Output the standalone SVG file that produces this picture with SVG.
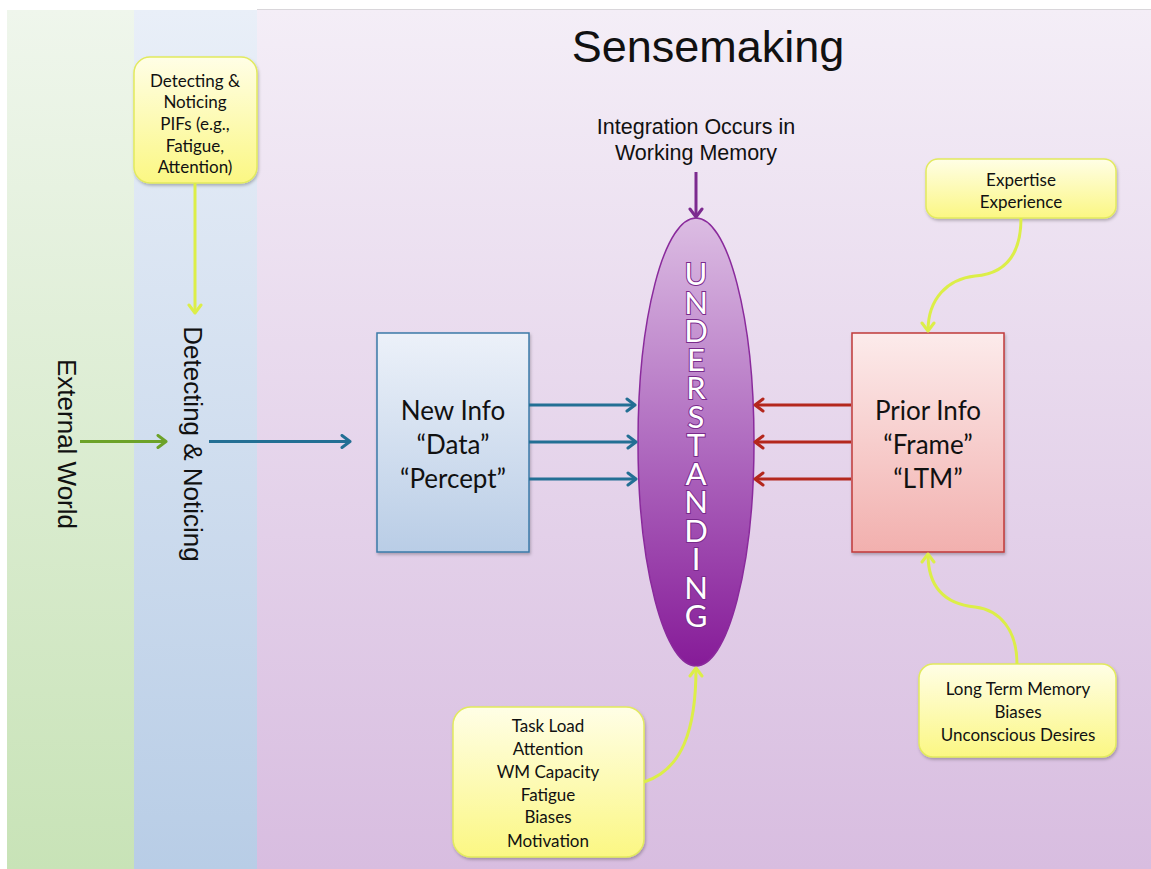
<svg xmlns="http://www.w3.org/2000/svg" width="1151" height="869" viewBox="0 0 1151 869">
  <defs>
    <linearGradient id="gGreen" x1="0" y1="0" x2="0" y2="1">
      <stop offset="0" stop-color="#eff6ec"/>
      <stop offset="1" stop-color="#c8e3b7"/>
    </linearGradient>
    <linearGradient id="gBlue" x1="0" y1="0" x2="0" y2="1">
      <stop offset="0" stop-color="#e9eff8"/>
      <stop offset="1" stop-color="#b8cde6"/>
    </linearGradient>
    <linearGradient id="gPurple" x1="0" y1="0" x2="0" y2="1">
      <stop offset="0" stop-color="#f4eef7"/>
      <stop offset="1" stop-color="#d8bde0"/>
    </linearGradient>
    <linearGradient id="gEllipse" x1="0" y1="0" x2="0" y2="1">
      <stop offset="0" stop-color="#dcbde3"/>
      <stop offset="0.5" stop-color="#b06cc0"/>
      <stop offset="1" stop-color="#861b98"/>
    </linearGradient>
    <linearGradient id="gNew" x1="0" y1="0" x2="0" y2="1">
      <stop offset="0" stop-color="#ecf1f9"/>
      <stop offset="1" stop-color="#b9cde6"/>
    </linearGradient>
    <linearGradient id="gPrior" x1="0" y1="0" x2="0" y2="1">
      <stop offset="0" stop-color="#fcebeb"/>
      <stop offset="1" stop-color="#f2b0ae"/>
    </linearGradient>
    <linearGradient id="gNote" x1="0" y1="0" x2="0" y2="1">
      <stop offset="0" stop-color="#fffee6"/>
      <stop offset="1" stop-color="#fbf783"/>
    </linearGradient>
    <filter id="shadow" x="-10%" y="-10%" width="130%" height="130%">
      <feDropShadow dx="1" dy="2" stdDeviation="1.5" flood-color="#000" flood-opacity="0.25"/>
    </filter>
    <marker id="mYellow" markerUnits="userSpaceOnUse" markerWidth="16" markerHeight="16" viewBox="0 0 16 16" refX="13" refY="8" orient="auto">
      <path d="M5,2 L13,8 L5,14" fill="none" stroke="#dcee48" stroke-width="3" stroke-linecap="round" stroke-linejoin="round"/>
    </marker>
    <marker id="mGreen" markerUnits="userSpaceOnUse" markerWidth="16" markerHeight="16" viewBox="0 0 16 16" refX="13" refY="8" orient="auto">
      <path d="M5,2 L13,8 L5,14" fill="none" stroke="#6ca228" stroke-width="3" stroke-linecap="round" stroke-linejoin="round"/>
    </marker>
    <marker id="mTeal" markerUnits="userSpaceOnUse" markerWidth="16" markerHeight="16" viewBox="0 0 16 16" refX="13" refY="8" orient="auto">
      <path d="M5,2 L13,8 L5,14" fill="none" stroke="#236f94" stroke-width="3" stroke-linecap="round" stroke-linejoin="round"/>
    </marker>
    <marker id="mRed" markerUnits="userSpaceOnUse" markerWidth="16" markerHeight="16" viewBox="0 0 16 16" refX="13" refY="8" orient="auto">
      <path d="M5,2 L13,8 L5,14" fill="none" stroke="#b4271d" stroke-width="3" stroke-linecap="round" stroke-linejoin="round"/>
    </marker>
    <marker id="mPurple" markerUnits="userSpaceOnUse" markerWidth="16" markerHeight="16" viewBox="0 0 16 16" refX="13" refY="8" orient="auto">
      <path d="M5,2 L13,8 L5,14" fill="none" stroke="#7c2a8f" stroke-width="3" stroke-linecap="round" stroke-linejoin="round"/>
    </marker>
  </defs>
  <style>
    .sans { font-family: "Liberation Sans", Arial, sans-serif; fill: #111; }
    .note { fill: url(#gNote); stroke: #e2ea5e; stroke-width: 1.5; filter: url(#shadow); }
    .noteText { font-family: Lato, "Open Sans", sans-serif; font-size: 17px; fill: #111; text-anchor: middle; }
    .boxText { font-family: Lato, "Open Sans", sans-serif; font-size: 26px; fill: #111; text-anchor: middle; }
    .yl { fill: none; stroke: #dcee48; stroke-width: 3; marker-end: url(#mYellow); }
    .letters { font-family: Lato, "Open Sans", sans-serif; font-size: 31px; fill: #fff; stroke: #7a2a8c; stroke-width: 2; paint-order: stroke; writing-mode: vertical-rl; text-orientation: upright; letter-spacing: -9.5px; }
  </style>

  <!-- background bands -->
  <g id="bands">
    <rect x="257" y="9" width="894" height="860" fill="url(#gPurple)"/>
    <line x1="257" y1="9.5" x2="1151" y2="9.5" stroke="#d9d6da" stroke-width="1"/>
    <rect x="7" y="10" width="127" height="859" fill="url(#gGreen)"/>
    <rect x="134" y="10" width="123" height="859" fill="url(#gBlue)"/>
  </g>

  <text class="sans" x="708" y="62" font-size="45" text-anchor="middle">Sensemaking</text>

  <g id="external-world">
    <text class="sans" font-size="26" text-anchor="middle" transform="translate(58,444) rotate(90)">External World</text>
  </g>

  <g id="detecting-noticing">
    <text class="sans" font-size="26" text-anchor="middle" transform="translate(184,444) rotate(90)">Detecting &amp; Noticing</text>
  </g>

  <g id="note-pifs">
    <rect class="note" x="134" y="57" width="123" height="126" rx="16"/>
    <text class="noteText" x="195" y="87">Detecting &amp;</text>
    <text class="noteText" x="195" y="108">Noticing</text>
    <text class="noteText" x="195" y="130">PIFs (e.g.,</text>
    <text class="noteText" x="195" y="152">Fatigue,</text>
    <text class="noteText" x="195" y="173">Attention)</text>
  </g>

  <g id="integration-label">
    <text class="sans" x="696" y="134" font-size="21.5" text-anchor="middle">Integration Occurs in</text>
    <text class="sans" x="696" y="160" font-size="21.5" text-anchor="middle">Working Memory</text>
  </g>

  <g id="new-info">
    <rect x="377" y="333" width="152" height="219" fill="url(#gNew)" stroke="#3b7aa8" stroke-width="1.5" filter="url(#shadow)"/>
    <text class="boxText" x="453" y="420">New Info</text>
    <text class="boxText" x="453" y="454">“Data”</text>
    <text class="boxText" x="453" y="488">“Percept”</text>
  </g>

  <g id="prior-info">
    <rect x="852" y="333" width="152" height="219" fill="url(#gPrior)" stroke="#c03a3a" stroke-width="1.5" filter="url(#shadow)"/>
    <text class="boxText" x="928" y="420">Prior Info</text>
    <text class="boxText" x="928" y="454">“Frame”</text>
    <text class="boxText" x="928" y="488">“LTM”</text>
  </g>

  <g id="understanding">
    <ellipse cx="696" cy="442" rx="58" ry="224" fill="url(#gEllipse)" stroke="#8a2a9c" stroke-width="1.5"/>
    <!-- word set in upright vertical writing -->
    <text class="letters" x="696" y="254">UNDERSTANDING</text>
  </g>

  <g id="note-expertise">
    <rect class="note" x="926" y="159" width="190" height="59" rx="12"/>
    <text class="noteText" x="1021" y="186">Expertise</text>
    <text class="noteText" x="1021" y="208">Experience</text>
  </g>

  <g id="note-ltm">
    <rect class="note" x="919" y="664" width="197" height="93" rx="14"/>
    <text class="noteText" x="1018" y="695">Long Term Memory</text>
    <text class="noteText" x="1018" y="718">Biases</text>
    <text class="noteText" x="1018" y="741">Unconscious Desires</text>
  </g>

  <g id="note-wm">
    <rect class="note" x="453" y="707" width="191" height="150" rx="18"/>
    <text class="noteText" x="548" y="732">Task Load</text>
    <text class="noteText" x="548" y="755">Attention</text>
    <text class="noteText" x="548" y="778">WM Capacity</text>
    <text class="noteText" x="548" y="801">Fatigue</text>
    <text class="noteText" x="548" y="823">Biases</text>
    <text class="noteText" x="548" y="847">Motivation</text>
  </g>

  <!-- connectors -->
  <g id="connectors">
    <line x1="195" y1="183" x2="195" y2="313" class="yl"/>
    <line x1="80" y1="441.5" x2="166" y2="441.5" stroke="#6ca228" stroke-width="3" marker-end="url(#mGreen)"/>
    <line x1="209" y1="441.5" x2="350" y2="441.5" stroke="#236f94" stroke-width="3" marker-end="url(#mTeal)"/>
    <line x1="529" y1="405" x2="635" y2="405" stroke="#236f94" stroke-width="3" marker-end="url(#mTeal)"/>
    <line x1="529" y1="442" x2="636" y2="442" stroke="#236f94" stroke-width="3" marker-end="url(#mTeal)"/>
    <line x1="529" y1="479" x2="636" y2="479" stroke="#236f94" stroke-width="3" marker-end="url(#mTeal)"/>
    <line x1="851" y1="405" x2="755" y2="405" stroke="#b4271d" stroke-width="3" marker-end="url(#mRed)"/>
    <line x1="851" y1="442" x2="755" y2="442" stroke="#b4271d" stroke-width="3" marker-end="url(#mRed)"/>
    <line x1="851" y1="479" x2="755" y2="479" stroke="#b4271d" stroke-width="3" marker-end="url(#mRed)"/>
    <line x1="696" y1="172" x2="696" y2="217" stroke="#7c2a8f" stroke-width="3" marker-end="url(#mPurple)"/>
    <path class="yl" d="M1021,218 C1021,258 1002,274 975,276 C948,279 928,298 928,331"/>
    <path class="yl" d="M1017,664 C1017,630 1000,610 975,607 C945,604 928,588 928,554"/>
    <path class="yl" d="M644,782 C682,770 696,730 696,668"/>
  </g>
</svg>
